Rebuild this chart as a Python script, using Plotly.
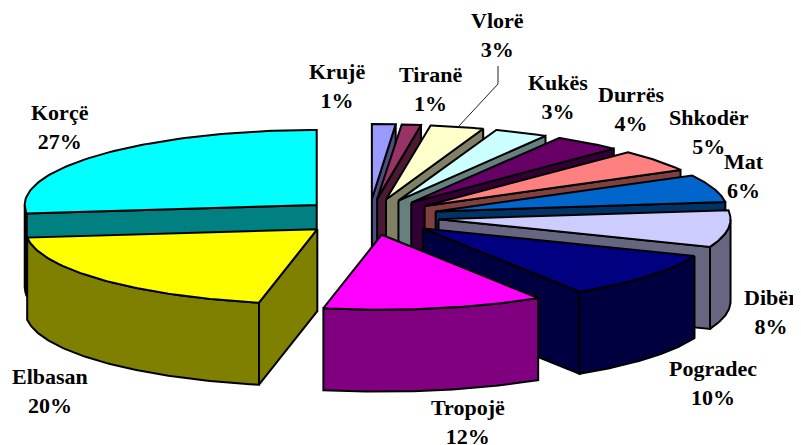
import numpy as np
import plotly.graph_objects as go

# values, clockwise from 12 o'clock
towns = ["Krujë", "Tiranë", "Vlorë", "Kukës", "Durrës", "Shkodër", "Mat", "Dibër",
         "Pogradec", "Tropojë", "Elbasan", "Korçë"]
shares = [1.3, 1.1, 3, 3, 3.8, 4.8, 6, 8, 10, 12.2, 20, 26.8]
top_colors = ["#9999FF", "#993366", "#FFFFCC", "#CCFFFF", "#660066", "#FF8080",
              "#0066CC", "#CCCCFF", "#000080", "#FF00FF", "#FFFF00", "#00FFFF"]
wall_colors = ["#4C4C80", "#4C1933", "#808066", "#668080", "#330033", "#804040",
               "#003366", "#666680", "#000040", "#800080", "#808000", "#008080"]

# projection of the tilted pie, in picture pixels
cx, cy = 369, 217
rx, ry = 292, 75
explode = 0.24
depth = 82

label_x = [337, 430, 497, 558, 631, 709, 744, 771, 713, 468, 50, 60]
label_y = [86, 89, 35, 97, 109, 132, 176, 312, 383, 422, 391, 127]

# the page body has an 8px margin, so the plot area starts at 8,8
page_margin = 8

fig = go.Figure()


def face(xs, ys, color):
    fig.add_trace(go.Scatter(
        x=xs, y=ys, mode="lines", fill="toself", fillcolor=color,
        line=dict(color="black", width=2), hoverinfo="skip", showlegend=False,
    ))


edges = np.cumsum([0] + shares) / sum(shares) * 2 * np.pi
mids = (edges[:-1] + edges[1:]) / 2

# back slices first, so the nearer ones paint over them
for i in np.argsort(-np.cos(mids), kind="stable"):
    a0, a1 = edges[i], edges[i + 1]
    tx = cx + explode * rx * np.sin(mids[i])
    ty = cy - explode * ry * np.cos(mids[i])
    rim = np.linspace(a0, a1, 80)
    rim_x = tx + rx * np.sin(rim)
    rim_y = ty - ry * np.cos(rim)

    if np.sin(a0) < -1e-9:
        face([tx, rim_x[0], rim_x[0], tx, tx],
             [ty, rim_y[0], rim_y[0] + depth, ty + depth, ty], wall_colors[i])
    if np.sin(a1) > 1e-9:
        face([tx, rim_x[-1], rim_x[-1], tx, tx],
             [ty, rim_y[-1], rim_y[-1] + depth, ty + depth, ty], wall_colors[i])

    front = np.cos(rim) < 0
    if front.any():
        fx, fy = rim_x[front], rim_y[front]
        face(list(fx) + list(fx[::-1]) + [fx[0]],
             list(fy) + list(fy[::-1] + depth) + [fy[0]], wall_colors[i])

    face([tx] + list(rim_x) + [tx], [ty] + list(rim_y) + [ty], top_colors[i])

for i, town in enumerate(towns):
    fig.add_annotation(
        x=label_x[i], y=label_y[i], text=f"{town}<br>{round(shares[i])}%", showarrow=False,
        font=dict(family="Liberation Serif", size=22, color="black", weight="bold"),
        xanchor="center", yanchor="middle", align="center",
    )

# Vlorë leader
fig.add_shape(type="path", path="M 498 66 L 498 84 L 458 127",
              line=dict(color="#222222", width=1))

fig.update_layout(
    width=801 - page_margin, height=445 - page_margin,
    margin=dict(l=0, r=0, t=0, b=0),
    paper_bgcolor="white", plot_bgcolor="white",
    xaxis=dict(range=[page_margin, 801], visible=False),
    yaxis=dict(range=[445, page_margin], visible=False),
)

fig.write_html("out.html")
